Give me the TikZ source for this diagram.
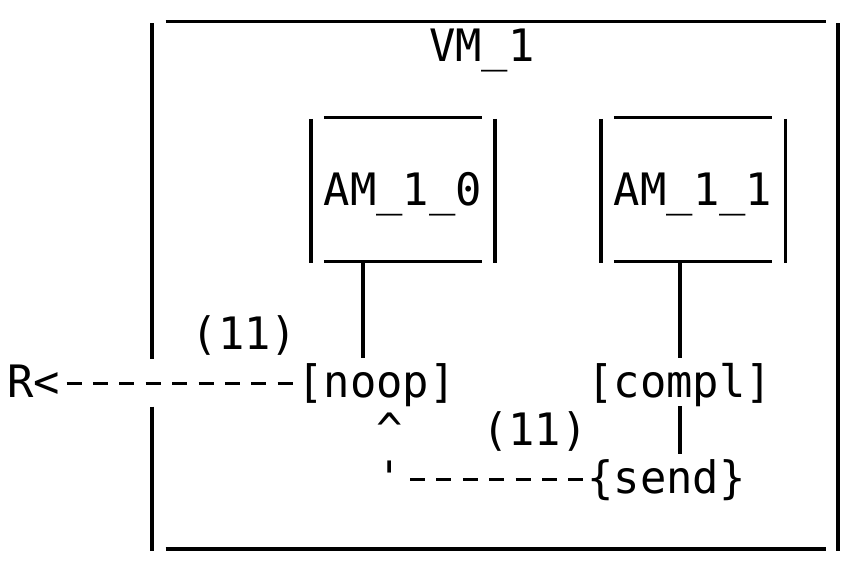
\documentclass[tikz,border=0pt]{standalone}
\usepackage{fontspec}
\setmonofont{DejaVu Sans Mono}[FakeStretch=0.98]
\begin{document}
\begin{tikzpicture}[x=0.75pt,y=-0.75pt,
  txt/.style={anchor=base west, inner sep=0pt, outer sep=0pt,
    font=\ttfamily\fontsize{33.5pt}{40pt}\selectfont,
    text height=29.25pt, text depth=6.7pt},
  vbar/.style={line width=2.8pt},
  hbar/.style={line width=2.5pt},
  dashc/.style={line width=2.5pt, dash pattern=on 11.25pt off 8.535pt, dash phase=14.76pt}]
\useasboundingbox (0,0) rectangle (849,566);

% text nodes
\node[txt] (vm)    at (429.28,61.5)  {VM\_1};
\node[txt] (am0)   at (323.76,205.7) {AM\_1\_0};
\node[txt] (am1)   at (613.94,205.7) {AM\_1\_1};
\node[txt] (p1)    at (191.86,349.4) {(11)};
\node[txt] (R)     at (7.2,397.3)    {R<};
\node[txt] (noop)  at (297.38,397.3) {[noop]};
\node[txt] (compl) at (587.56,397.3) {[compl]};
\node[txt] (caret) at (376.52,445.2) {\textasciicircum};
\node[txt] (p2)    at (482.04,445.2) {(11)};
\node[txt] (tick)  at (376.52,493.1) {\textquotesingle};
\node[txt] (send)  at (587.56,493.1) {\{send\}};

% VM_1 box
\draw[hbar] (165.5,21.7) -- (825.7,21.7);
\draw[hbar] (165.5,549) -- (825.7,549);
\draw[vbar] (152.3,23.3) -- (152.3,358.6);
\draw[vbar] (152.3,406.5) -- (152.3,551);
\draw[vbar] (838.3,23.3) -- (838.3,551);

% AM_1_0 box
\draw[hbar] (323.8,117.3) -- (482,117.3);
\draw[hbar] (323.8,261.7) -- (482,261.7);
\draw[vbar] (310.7,119) -- (310.7,263.3);
\draw[vbar] (495.2,119) -- (495.2,263.3);

% AM_1_1 box
\draw[hbar] (613.9,117.3) -- (772.2,117.3);
\draw[hbar] (613.9,261.7) -- (772.2,261.7);
\draw[vbar] (600.75,119) -- (600.75,263.3);
\draw[vbar] (785.4,119) -- (785.4,263.3);

% vertical connectors
\coordinate (b0) at (363.3,263.3);
\coordinate (b1) at (679.8,263.3);
\draw[vbar] (b0) -- (b0 |- noop.north);
\draw[vbar] (b1) -- (b1 |- compl.north);
\draw[vbar] (b1 |- compl.south) -- (b1 |- send.north);

% dashed connectors
\draw[dashc] (R.base east) ++(0,-13.5) coordinate (d1) -- (d1 -| noop.west);
\draw[dashc] (tick.base east) ++(0,-13.5) coordinate (d2) -- (d2 -| send.west);
\end{tikzpicture}
\end{document}
